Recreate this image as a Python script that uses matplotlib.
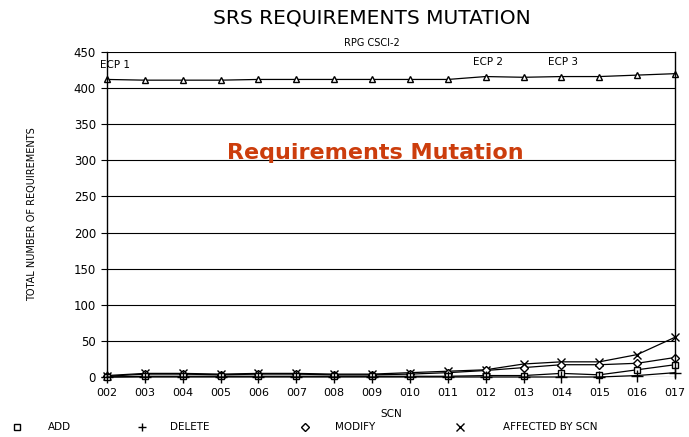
import matplotlib
matplotlib.use("Agg")
import matplotlib.pyplot as plt

SCN = ["002", "003", "004", "005", "006", "007", "008", "009",
       "010", "011", "012", "013", "014", "015", "016", "017"]

TOTAL = [412, 411, 411, 411, 412, 412, 412, 412, 412, 412, 416, 415, 416, 416, 418, 420]
ADD = [0, 1, 1, 1, 1, 1, 1, 1, 1, 1, 2, 2, 5, 3, 10, 17]
DELETE = [0, 0, 0, 0, 0, 0, 0, 0, 0, 0, 0, 0, 0, 0, 2, 6]
MODIFY = [1, 4, 4, 3, 4, 4, 3, 3, 4, 6, 9, 13, 17, 17, 19, 27]
AFFECTED = [2, 5, 5, 4, 5, 5, 4, 4, 6, 8, 10, 18, 21, 21, 31, 55]

ECP_LABELS = ["ECP 1", "ECP 2", "ECP 3"]
ECP_POS = [0.2, 10.05, 12.05]
ECP_Y = [425, 429, 429]

YTICKS = [0, 50, 100, 150, 200, 250, 300, 350, 400, 450]


def main():
    fig = plt.figure(figsize=(6.89, 4.37), dpi=100)
    ax = fig.add_axes([0.1553, 0.1373, 0.8244, 0.7437])
    x = list(range(len(SCN)))

    lw = 0.9
    ax.plot(x, TOTAL, color="black", lw=lw, marker="^", mfc="white", mec="black", ms=5, clip_on=False)
    ax.plot(x, AFFECTED, color="black", lw=lw, marker="x", ms=6, clip_on=False)
    ax.plot(x, MODIFY, color="black", lw=lw, marker="D", mfc="white", mec="black", ms=4, clip_on=False)
    ax.plot(x, ADD, color="black", lw=lw, marker="s", mfc="white", mec="black", ms=5, clip_on=False)
    ax.plot(x, DELETE, color="black", lw=lw, marker="+", ms=8, clip_on=False)

    ax.set_xlim(0, len(SCN) - 1)
    ax.set_ylim(0, 450)
    ax.set_yticks(YTICKS)
    ax.set_xticks(x)
    ax.set_xticklabels(SCN)
    ax.tick_params(axis="both", labelsize=8.5, length=4, width=0.8, direction="out", pad=4)
    ax.tick_params(axis="x", length=0, pad=8, labelsize=8)
    for v in YTICKS:
        ax.axhline(v, color="black", lw=0.8, zorder=0)
    for side in ["top", "bottom"]:
        ax.spines[side].set_visible(False)
    ax.spines["left"].set_linewidth(1.0)
    ax.spines["right"].set_linewidth(1.0)

    for lab, px, py in zip(ECP_LABELS, ECP_POS, ECP_Y):
        ax.text(px, py, lab, fontsize=7.5, ha="center", va="bottom")

    ax.text(0.472, 0.69, "Requirements Mutation", transform=ax.transAxes,
            color="#cc3d0c", fontsize=16, fontweight="bold", ha="center", va="center")

    ax.set_xlabel("SCN", fontsize=7.5, labelpad=8)
    ax.set_ylabel("TOTAL NUMBER OF REQUIREMENTS", fontsize=7, labelpad=26)

    fig.text(0.54, 0.958, "SRS REQUIREMENTS MUTATION", fontsize=14.5, ha="center", va="center",
             color="black")
    fig.text(0.54, 0.902, "RPG CSCI-2", fontsize=7, ha="center", va="center")

    # legend row at the bottom
    legend_y = 0.022
    items = [("s", "ADD", 0.025, 0.07), ("+", "DELETE", 0.206, 0.247),
             ("D", "MODIFY", 0.443, 0.486), ("x", "AFFECTED BY SCN", 0.668, 0.73)]
    for mk, lab, mx, tx in items:
        fig.lines.append(plt.Line2D([mx], [legend_y], marker=mk, color="black", mfc="white",
                                    ms=4 if mk in ("s", "D") else 6, lw=0,
                                    transform=fig.transFigure))
        fig.text(tx, legend_y, lab, fontsize=7.5, va="center", ha="left")

    fig.savefig("out.png", dpi=100)
    plt.close(fig)


if __name__ == "__main__":
    main()
